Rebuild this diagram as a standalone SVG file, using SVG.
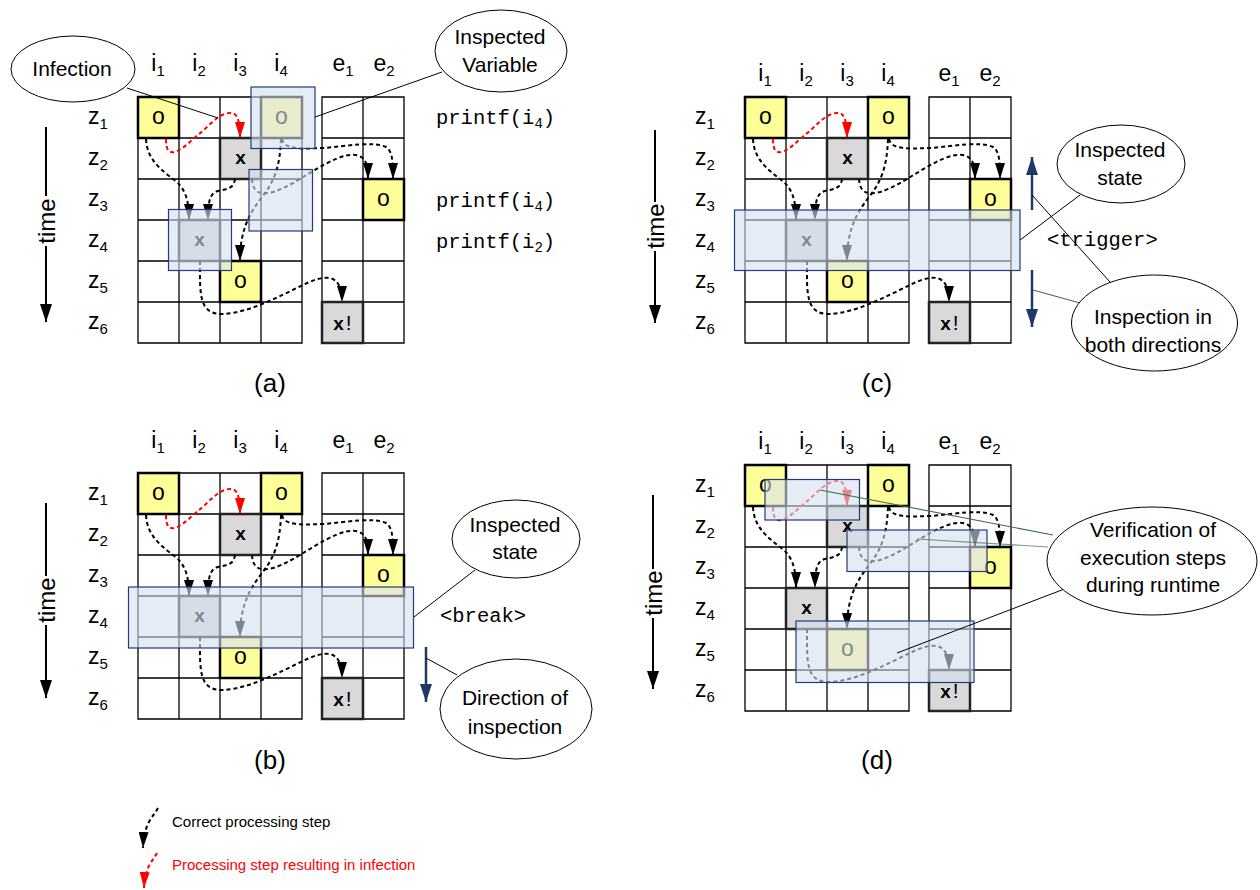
<svg xmlns="http://www.w3.org/2000/svg" xmlns:xlink="http://www.w3.org/1999/xlink" width="1260" height="890" viewBox="0 0 1260 890">
<style>
  .t { font-family: "Liberation Sans", Arial, sans-serif; fill: #000; }
  .lb { font-size: 23px; }
  .sb { font-size: 15px; }
  .mo { font-family: "Liberation Mono", "DejaVu Sans Mono", monospace; font-size: 20.5px; fill: #000; }
  .cap { font-size: 26px; text-anchor: middle; }
  .ct { font-size: 21px; text-anchor: middle; }
  .co { font-family: "Liberation Sans", Arial, sans-serif; font-size: 23px; text-anchor: middle; }
  .cx { font-family: "Liberation Sans", Arial, sans-serif; font-size: 19px; font-weight: bold; text-anchor: middle; }
  .cy { fill: #ffff99; stroke: #000; stroke-width: 2.5; }
  .cg { fill: #d9d9d9; stroke: #222; stroke-width: 2.5; }
  .gridln { fill: none; stroke: #000; stroke-width: 1.3; }
  .flow { fill: none; stroke: #000; stroke-width: 2; stroke-dasharray: 4 3; marker-end: url(#ah); }
  .inf { stroke: #ff0000; marker-end: url(#ahr); }
  .ov { fill: #d6dfee; fill-opacity: 0.6; stroke: #1f3c78; stroke-width: 1.2; }
  .bub { fill: #fff; stroke: #000; stroke-width: 1; }
  .lead { stroke: #000; stroke-width: 1; fill: none; }
  .leadg { stroke: #3d6e45; stroke-width: 1.1; fill: none; }
  .timeln { stroke: #000; stroke-width: 2; }
  .nav { stroke: #1f3864; stroke-width: 2.5; marker-end: url(#ahn); }
</style>
<defs>
  <marker id="ah" markerUnits="userSpaceOnUse" markerWidth="16" markerHeight="10" refX="16" refY="5" orient="auto">
    <path d="M0,0 L16,5 L0,10 Z" fill="#000"/>
  </marker>
  <marker id="ahr" markerUnits="userSpaceOnUse" markerWidth="16" markerHeight="10" refX="16" refY="5" orient="auto">
    <path d="M0,0 L16,5 L0,10 Z" fill="#ff0000"/>
  </marker>
  <marker id="ahn" markerUnits="userSpaceOnUse" markerWidth="18" markerHeight="12" refX="18" refY="6" orient="auto">
    <path d="M0,0 L18,6 L0,12 Z" fill="#1f3864"/>
  </marker>
  <marker id="aht" markerUnits="userSpaceOnUse" markerWidth="18" markerHeight="12" refX="18" refY="6" orient="auto">
    <path d="M0,0 L18,6 L0,12 Z" fill="#000"/>
  </marker>

  <!-- state table: four internal variables, gap, two external outputs; six time steps -->
  <path id="grid" class="gridln" d="M0,0H164V246H0Z M41,0V246 M82,0V246 M123,0V246 M0,41H164 M0,82H164 M0,123H164 M0,164H164 M0,205H164 M184,0H266V246H184Z M225,0V246 M184,41H266 M184,82H266 M184,123H266 M184,164H266 M184,205H266"/>

  <g id="cellO"><rect width="41" height="41" class="cy"/><text x="20.5" y="27" class="co">o</text></g>
  <g id="cellX"><rect width="41" height="41" class="cg"/><text x="20.5" y="26" class="cx">x</text></g>
  <g id="cellXE"><rect width="41" height="41" class="cg"/><text x="20.5" y="28" class="co"><tspan font-size="19" font-weight="bold">x</tspan><tspan font-size="21" dx="2">!</tspan></text></g>

  <!-- processing steps, in table-local coordinates -->
  <g id="flows">
    <path class="flow inf" d="M28,42 C28,53 31,56 36,55 C45,53 52,44 60,38 C70,30 80,17 91,16 C98,15 102,20 102,41"/>
    <path class="flow" d="M8,42 C9,62 22,72 35,82 C46,90 51,100 51,123"/>
    <path class="flow" d="M97,82 C96,92 88,92 80,94 C72,96 70,104 70,123"/>
    <path class="flow" d="M143,42 C142,70 136,85 124,100 C110,118 102,135 102,164"/>
    <path class="flow" d="M144,42 C146,52 160,52 185,51 C210,49 235,44 248,50 C254,54 255,62 255,82"/>
    <path class="flow" d="M114,82 C115,96 122,98 135,95 C160,88 195,55 218,58 C228,60 230,68 230,82"/>
    <path class="flow" d="M62,164 C62,195 60,218 85,217 C110,216 140,200 165,188 C185,178 204,174 204,205"/>
  </g>
</defs>

<rect width="1260" height="890" fill="#fff"/>

<!-- ===== panel (a) ===== -->
<g id="panel-a">
  <g id="a-heads" class="t lb" text-anchor="middle">
    <text x="158" y="71">i<tspan class="sb" dy="5">1</tspan></text>
    <text x="199" y="71">i<tspan class="sb" dy="5">2</tspan></text>
    <text x="240" y="71">i<tspan class="sb" dy="5">3</tspan></text>
    <text x="281" y="71">i<tspan class="sb" dy="5">4</tspan></text>
    <text x="343" y="71">e<tspan class="sb" dy="5">1</tspan></text>
    <text x="384" y="71">e<tspan class="sb" dy="5">2</tspan></text>
  </g>
  <g id="a-steps" class="t lb">
    <text x="88" y="124">z<tspan class="sb" dy="5">1</tspan></text>
    <text x="88" y="165">z<tspan class="sb" dy="5">2</tspan></text>
    <text x="88" y="206">z<tspan class="sb" dy="5">3</tspan></text>
    <text x="88" y="247">z<tspan class="sb" dy="5">4</tspan></text>
    <text x="88" y="288">z<tspan class="sb" dy="5">5</tspan></text>
    <text x="88" y="329">z<tspan class="sb" dy="5">6</tspan></text>
  </g>
  <g id="a-time">
    <line class="timeln" x1="46" y1="127" x2="46" y2="196"/>
    <text class="t" font-size="24" text-anchor="middle" dominant-baseline="central" transform="translate(46,221) rotate(-90)">time</text>
    <line class="timeln" x1="46" y1="246" x2="46" y2="322" marker-end="url(#aht)"/>
  </g>
  <g id="a-table" transform="translate(138,97)">
    <use href="#grid"/>
    <g id="a-i1z1"><use href="#cellO" x="0" y="0"/></g>
    <g id="a-i4z1"><use href="#cellO" x="123" y="0"/></g>
    <g id="a-i3z2"><use href="#cellX" x="82" y="41"/></g>
    <g id="a-e2z3"><use href="#cellO" x="225" y="82"/></g>
    <g id="a-i2z4"><use href="#cellX" x="41" y="123"/></g>
    <g id="a-i3z5"><use href="#cellO" x="82" y="164"/></g>
    <g id="a-e1z6"><use href="#cellXE" x="184" y="205"/></g>
  </g>
  <g id="a-prints">
    <text class="mo" x="436" y="124">printf(i<tspan font-size="14" dy="4">4</tspan><tspan dy="-4">)</tspan></text>
    <text class="mo" x="436" y="207">printf(i<tspan font-size="14" dy="4">4</tspan><tspan dy="-4">)</tspan></text>
    <text class="mo" x="436" y="248">printf(i<tspan font-size="14" dy="4">2</tspan><tspan dy="-4">)</tspan></text>
  </g>
  <text class="t cap" x="270" y="392">(a)</text>
</g>

<!-- ===== panel (b) ===== -->
<g id="panel-b">
  <g id="b-heads" class="t lb" text-anchor="middle">
    <text x="158" y="448">i<tspan class="sb" dy="5">1</tspan></text>
    <text x="199" y="448">i<tspan class="sb" dy="5">2</tspan></text>
    <text x="240" y="448">i<tspan class="sb" dy="5">3</tspan></text>
    <text x="281" y="448">i<tspan class="sb" dy="5">4</tspan></text>
    <text x="343" y="448">e<tspan class="sb" dy="5">1</tspan></text>
    <text x="384" y="448">e<tspan class="sb" dy="5">2</tspan></text>
  </g>
  <g id="b-steps" class="t lb">
    <text x="88" y="500">z<tspan class="sb" dy="5">1</tspan></text>
    <text x="88" y="541">z<tspan class="sb" dy="5">2</tspan></text>
    <text x="88" y="582">z<tspan class="sb" dy="5">3</tspan></text>
    <text x="88" y="623">z<tspan class="sb" dy="5">4</tspan></text>
    <text x="88" y="664">z<tspan class="sb" dy="5">5</tspan></text>
    <text x="88" y="705">z<tspan class="sb" dy="5">6</tspan></text>
  </g>
  <g id="b-time">
    <line class="timeln" x1="46" y1="503" x2="46" y2="576"/>
    <text class="t" font-size="24" text-anchor="middle" dominant-baseline="central" transform="translate(46,600) rotate(-90)">time</text>
    <line class="timeln" x1="46" y1="625" x2="46" y2="698" marker-end="url(#aht)"/>
  </g>
  <g id="b-table" transform="translate(138,473)">
    <use href="#grid"/>
    <g id="b-i1z1"><use href="#cellO" x="0" y="0"/></g>
    <g id="b-i4z1"><use href="#cellO" x="123" y="0"/></g>
    <g id="b-i3z2"><use href="#cellX" x="82" y="41"/></g>
    <g id="b-e2z3"><use href="#cellO" x="225" y="82"/></g>
    <g id="b-i2z4"><use href="#cellX" x="41" y="123"/></g>
    <g id="b-i3z5"><use href="#cellO" x="82" y="164"/></g>
    <g id="b-e1z6"><use href="#cellXE" x="184" y="205"/></g>
  </g>
  <text class="mo" x="440" y="622">&lt;break&gt;</text>
  <text class="t cap" x="270" y="769">(b)</text>
</g>

<!-- ===== panel (c) ===== -->
<g id="panel-c">
  <g id="c-heads" class="t lb" text-anchor="middle">
    <text x="765" y="81">i<tspan class="sb" dy="5">1</tspan></text>
    <text x="806" y="81">i<tspan class="sb" dy="5">2</tspan></text>
    <text x="847" y="81">i<tspan class="sb" dy="5">3</tspan></text>
    <text x="888" y="81">i<tspan class="sb" dy="5">4</tspan></text>
    <text x="949" y="81">e<tspan class="sb" dy="5">1</tspan></text>
    <text x="990" y="81">e<tspan class="sb" dy="5">2</tspan></text>
  </g>
  <g id="c-steps" class="t lb">
    <text x="695" y="124">z<tspan class="sb" dy="5">1</tspan></text>
    <text x="695" y="165">z<tspan class="sb" dy="5">2</tspan></text>
    <text x="695" y="206">z<tspan class="sb" dy="5">3</tspan></text>
    <text x="695" y="247">z<tspan class="sb" dy="5">4</tspan></text>
    <text x="695" y="288">z<tspan class="sb" dy="5">5</tspan></text>
    <text x="695" y="329">z<tspan class="sb" dy="5">6</tspan></text>
  </g>
  <g id="c-time">
    <line class="timeln" x1="655" y1="130" x2="655" y2="202"/>
    <text class="t" font-size="24" text-anchor="middle" dominant-baseline="central" transform="translate(655,226) rotate(-90)">time</text>
    <line class="timeln" x1="655" y1="251" x2="655" y2="323" marker-end="url(#aht)"/>
  </g>
  <g id="c-table" transform="translate(745,97)">
    <use href="#grid"/>
    <g id="c-i1z1"><use href="#cellO" x="0" y="0"/></g>
    <g id="c-i4z1"><use href="#cellO" x="123" y="0"/></g>
    <g id="c-i3z2"><use href="#cellX" x="82" y="41"/></g>
    <g id="c-e2z3"><use href="#cellO" x="225" y="82"/></g>
    <g id="c-i2z4"><use href="#cellX" x="41" y="123"/></g>
    <g id="c-i3z5"><use href="#cellO" x="82" y="164"/></g>
    <g id="c-e1z6"><use href="#cellXE" x="184" y="205"/></g>
  </g>
  <text class="mo" x="1047" y="246">&lt;trigger&gt;</text>
  <text class="t cap" x="877" y="392">(c)</text>
</g>

<!-- ===== panel (d) ===== -->
<g id="panel-d">
  <g id="d-heads" class="t lb" text-anchor="middle">
    <text x="765" y="449">i<tspan class="sb" dy="5">1</tspan></text>
    <text x="806" y="449">i<tspan class="sb" dy="5">2</tspan></text>
    <text x="847" y="449">i<tspan class="sb" dy="5">3</tspan></text>
    <text x="888" y="449">i<tspan class="sb" dy="5">4</tspan></text>
    <text x="949" y="449">e<tspan class="sb" dy="5">1</tspan></text>
    <text x="990" y="449">e<tspan class="sb" dy="5">2</tspan></text>
  </g>
  <g id="d-steps" class="t lb">
    <text x="695" y="492">z<tspan class="sb" dy="5">1</tspan></text>
    <text x="695" y="533">z<tspan class="sb" dy="5">2</tspan></text>
    <text x="695" y="574">z<tspan class="sb" dy="5">3</tspan></text>
    <text x="695" y="615">z<tspan class="sb" dy="5">4</tspan></text>
    <text x="695" y="656">z<tspan class="sb" dy="5">5</tspan></text>
    <text x="695" y="697">z<tspan class="sb" dy="5">6</tspan></text>
  </g>
  <g id="d-time">
    <line class="timeln" x1="653" y1="495" x2="653" y2="569"/>
    <text class="t" font-size="24" text-anchor="middle" dominant-baseline="central" transform="translate(653,593) rotate(-90)">time</text>
    <line class="timeln" x1="653" y1="618" x2="653" y2="689" marker-end="url(#aht)"/>
  </g>
  <g id="d-table" transform="translate(745,465)">
    <use href="#grid"/>
    <g id="d-i1z1"><use href="#cellO" x="0" y="0"/></g>
    <g id="d-i4z1"><use href="#cellO" x="123" y="0"/></g>
    <g id="d-i3z2"><use href="#cellX" x="82" y="41"/></g>
    <g id="d-e2z3"><use href="#cellO" x="225" y="82"/></g>
    <g id="d-i2z4"><use href="#cellX" x="41" y="123"/></g>
    <g id="d-i3z5"><use href="#cellO" x="82" y="164"/></g>
    <g id="d-e1z6"><use href="#cellXE" x="184" y="205"/></g>
  </g>
  <text class="t cap" x="877" y="769">(d)</text>
</g>

<!-- processing steps in every table -->
<g id="connectors">
  <use href="#flows" transform="translate(138,97)"/>
  <use href="#flows" transform="translate(138,473)"/>
  <use href="#flows" transform="translate(745,97)"/>
  <use href="#flows" transform="translate(745,465)"/>
</g>

<!-- inspected regions -->
<g id="highlights">
  <rect id="a-box-var" class="ov" x="251" y="87" width="64" height="61.5"/>
  <rect id="a-box-mid" class="ov" x="249" y="169.5" width="63.5" height="61.5"/>
  <rect id="a-box-i2" class="ov" x="168.5" y="209.5" width="63" height="61"/>
  <rect id="b-box-state" class="ov" x="128.5" y="587" width="285" height="61"/>
  <rect id="c-box-state" class="ov" x="734.5" y="210" width="285.5" height="60.5"/>
  <rect id="d-box-1" class="ov" x="765" y="479.5" width="94.5" height="40.5"/>
  <rect id="d-box-2" class="ov" x="847" y="530" width="140" height="41.5"/>
  <rect id="d-box-3" class="ov" x="796" y="621" width="178" height="61.5"/>
</g>

<!-- callouts -->
<g id="callouts">
  <g id="a-infection">
    <line class="lead" x1="127" y1="88" x2="218" y2="118"/>
    <ellipse class="bub" cx="73" cy="69" rx="62" ry="33"/>
    <text class="t ct" x="72" y="76">Infection</text>
  </g>
  <g id="a-inspected-variable">
    <line class="lead" x1="442" y1="72" x2="315" y2="117"/>
    <ellipse class="bub" cx="501" cy="51" rx="66" ry="41"/>
    <text class="t ct" x="500" y="44">Inspected</text>
    <text class="t ct" x="500" y="72">Variable</text>
  </g>
  <g id="b-inspected-state">
    <line class="lead" x1="475" y1="570" x2="414" y2="617"/>
    <ellipse class="bub" cx="516" cy="539" rx="64" ry="39"/>
    <text class="t ct" x="515" y="532">Inspected</text>
    <text class="t ct" x="515" y="559">state</text>
  </g>
  <g id="b-direction">
    <line class="nav" x1="426" y1="647" x2="426" y2="702"/>
    <line class="lead" x1="457" y1="675" x2="426" y2="658"/>
    <ellipse class="bub" cx="516" cy="709" rx="76" ry="50"/>
    <text class="t ct" x="515" y="705">Direction of</text>
    <text class="t ct" x="515" y="734">inspection</text>
  </g>
  <g id="c-inspected-state">
    <line class="lead" x1="1080" y1="195" x2="1020" y2="240"/>
    <ellipse class="bub" cx="1121" cy="164" rx="64" ry="39"/>
    <text class="t ct" x="1120" y="157">Inspected</text>
    <text class="t ct" x="1120" y="185">state</text>
  </g>
  <g id="c-both-directions">
    <line class="nav" x1="1032" y1="210" x2="1032" y2="157"/>
    <line class="nav" x1="1032" y1="270" x2="1032" y2="327"/>
    <line class="lead" x1="1110" y1="282" x2="1032" y2="195"/>
    <line class="leadg" x1="1080" y1="303" x2="1033" y2="290"/>
    <ellipse class="bub" cx="1154.5" cy="323" rx="83" ry="48"/>
    <text class="t ct" x="1153" y="324">Inspection in</text>
    <text class="t ct" x="1153" y="352">both directions</text>
  </g>
  <g id="d-verification">
    <line class="leadg" x1="820" y1="490" x2="1053" y2="535"/>
    <line class="leadg" x1="917" y1="539" x2="1048" y2="547" stroke-opacity="0.7"/>
    <line class="lead" x1="1067" y1="588" x2="897" y2="653"/>
    <ellipse class="bub" cx="1152" cy="561" rx="105" ry="54"/>
    <text class="t ct" x="1153" y="537">Verification of</text>
    <text class="t ct" x="1153" y="565">execution steps</text>
    <text class="t ct" x="1153" y="592">during runtime</text>
  </g>
</g>

<!-- legend -->
<g id="legend">
  <path class="flow" d="M158,808 C154,816 144,822 143,848"/>
  <text class="t" x="172" y="827" font-size="15">Correct processing step</text>
  <path class="flow inf" d="M157,853 C153,861 145,866 144,888"/>
  <text class="t" x="172" y="870" font-size="15" style="fill:#ff0000">Processing step resulting in infection</text>
</g>
</svg>
